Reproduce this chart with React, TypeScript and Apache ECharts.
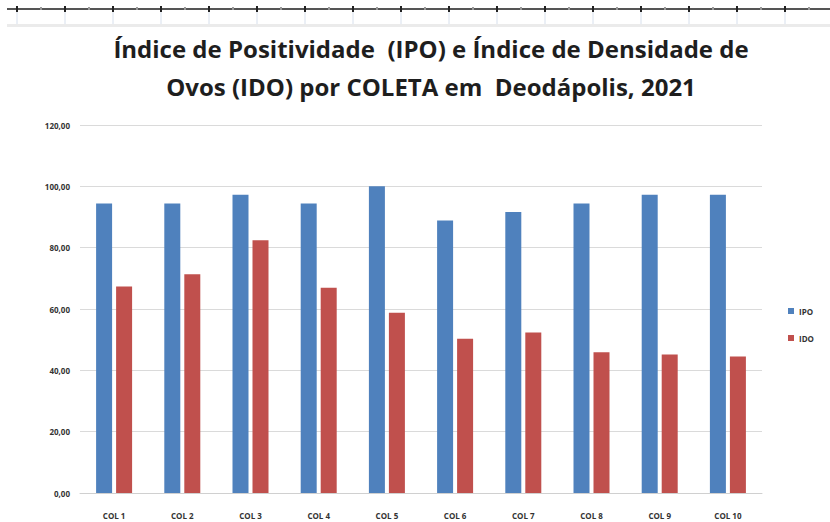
import React, { useEffect, useRef } from "react";
import * as echarts from "echarts";

const categories = ["COL 1", "COL 2", "COL 3", "COL 4", "COL 5", "COL 6", "COL 7", "COL 8", "COL 9", "COL 10"];
const ipoValues = [94.44, 94.44, 97.22, 94.44, 100.0, 88.89, 91.67, 94.44, 97.22, 97.22];
const idoValues = [67.3, 71.3, 82.4, 66.9, 58.8, 50.3, 52.3, 45.9, 45.2, 44.5];
const seriesNames = ["IPO", "IDO"];
const titleText = "Índice de Positividade  (IPO) e Índice de Densidade de\nOvos (IDO) por COLETA em  Deodápolis, 2021";

export default function App() {
  const ref = useRef<HTMLDivElement>(null);
  useEffect(() => {
    if (!ref.current) return;
    const chart = echarts.init(ref.current, null, { renderer: "svg" });

    const deco: any[] = [];
    deco.push({ type: "rect", shape: { x: 7, y: 24, width: 823, height: 3 }, style: { fill: "#ebebeb" }, silent: true });
    deco.push({ type: "line", shape: { x1: 7, y1: 9, x2: 830, y2: 9 }, style: { stroke: "#555", lineWidth: 2 }, silent: true });
    for (let x = 17; x < 830; x += 48) {
      deco.push({ type: "line", shape: { x1: x, y1: 10, x2: x, y2: 24 }, style: { stroke: "#d6dfec", lineWidth: 1 }, silent: true });
      deco.push({ type: "rect", shape: { x: x - 1, y: 6, width: 2, height: 6 }, style: { fill: "#222" }, silent: true });
      deco.push({ type: "rect", shape: { x: x + 23, y: 7, width: 2, height: 3 }, style: { fill: "#999" }, silent: true });
    }

    chart.setOption({
      animation: false,
      backgroundColor: "#ffffff",
      title: {
        text: titleText,
        left: 426,
        textAlign: "center",
        top: 24,
        textStyle: {
          fontFamily: "Open Sans",
          fontWeight: "bold",
          fontSize: 24,
          lineHeight: 38,
          color: "#1e1e1e",
        },
      },
      legend: {
        data: seriesNames,
        orient: "vertical",
        left: 783,
        top: 302,
        itemWidth: 6,
        itemHeight: 6,
        itemGap: 19,
        icon: "rect",
        textStyle: { fontSize: 8, fontWeight: "bold", color: "#333", fontFamily: "Open Sans" },
      },
      grid: { left: 80, right: 68, top: 125, bottom: 29, containLabel: false },
      xAxis: {
        type: "category",
        data: categories,
        axisLine: { lineStyle: { color: "#d0d0d0" } },
        axisTick: { show: false },
        axisLabel: { fontSize: 8, fontWeight: "bold", color: "#333", margin: 18, fontFamily: "Open Sans" },
      },
      yAxis: {
        type: "value",
        min: 0,
        max: 120,
        interval: 20,
        axisLine: { show: false },
        axisTick: { show: false },
        splitLine: { lineStyle: { color: "#dadada" } },
        axisLabel: {
          fontSize: 8,
          fontWeight: "bold",
          color: "#333",
          margin: 10,
          fontFamily: "Open Sans",
          formatter: (v: number) => v.toFixed(2).replace(".", ","),
        },
      },
      series: [
        {
          name: seriesNames[0],
          type: "bar",
          data: ipoValues,
          barWidth: 16,
          barGap: "25%",
          itemStyle: { color: "#4f81bd" },
        },
        {
          name: seriesNames[1],
          type: "bar",
          data: idoValues,
          barWidth: 16,
          itemStyle: { color: "#c0504d" },
        },
      ],
      graphic: deco,
    });
    return () => chart.dispose();
  }, []);
  return <div ref={ref} style={{ position: "fixed", left: 0, top: 0, width: 830, height: 522 }} />;
}
